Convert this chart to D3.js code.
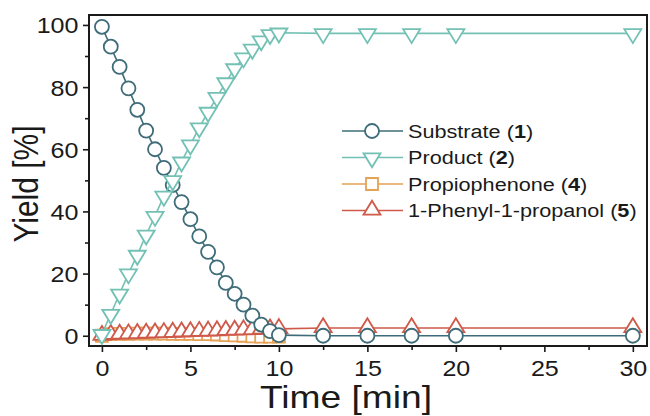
<!DOCTYPE html>
<html>
<head>
<meta charset="utf-8">
<script src="https://cdn.jsdelivr.net/npm/d3@7"></script>
<style>
  body { margin: 0; background: #fff; }
  svg { font-family: "Liberation Sans", Arial, sans-serif; }
</style>
</head>
<body>
<div id="chart"></div>
<script>
// sampling times [min]
var timeMin = [0, 0.5, 1, 1.5, 2, 2.5, 3, 3.5, 4, 4.5, 5, 5.5, 6, 6.5, 7, 7.5, 8, 8.5, 9, 9.5, 10,
               12.5, 15, 17.5, 20, 30];

// yields [%]
var substrate = [99.4, 93, 86.5, 79.6, 72.7, 66, 60, 54, 48.5, 43, 37.5, 32, 27, 22, 17, 13.5, 10, 6.5, 3.6, 1.5, 0.2,
                 0, 0, 0, 0, 0];
var product = [0.5, 7, 13.5, 20, 26, 32.5, 38.5, 45, 50, 56, 61.5, 67, 72, 76.8, 81.5, 86, 89.5, 92.3, 95, 97, 97.5,
               97.3, 97.3, 97.3, 97.3, 97.3];
var propiophenone = [0, 0.5, 0.6, 0.6, 0.7, 0.7, 0.7, 0.7, 0.6, 0.6, 0.6, 0.5, 0.5, 0.4, 0.2, 0.1, 0, -0.2, -0.3, -0.3, -0.3];
var phenylpropanol = [0, 0.3, 0.4, 0.5, 0.6, 0.7, 0.8, 0.9, 1.0, 1.1, 1.2, 1.3, 1.4, 1.5, 1.6, 1.7, 1.8, 1.9, 2.0, 2.1, 2.2,
                      2.5, 2.5, 2.5, 2.5, 2.5];

var xTicks = [0, 5, 10, 15, 20, 25, 30];
var xMinor = [2.5, 7.5, 12.5, 17.5, 22.5, 27.5];
var yTicks = [0, 20, 40, 60, 80, 100];
var yMinor = [10, 30, 50, 70, 90];

var seriesNames = ["Substrate", "Product", "Propiophenone", "1-Phenyl-1-propanol"];
var seriesNums = ["1", "2", "4", "5"];

var shapes = {
  circle: "M7,0A7,7 0 1,1 -7,0A7,7 0 1,1 7,0Z",
  triDown: "M-8.5,-4.2L8.5,-4.2L0,9.8Z",
  square: "M-6,-6h12v12h-12Z",
  triUp: "M0,-9.8L8.5,4.2L-8.5,4.2Z"
};

var series = [
  {name: seriesNames[2], num: seriesNums[2], values: propiophenone, color: "#e5a156", shape: shapes.square},
  {name: seriesNames[3], num: seriesNums[3], values: phenylpropanol, color: "#cf5a4a", shape: shapes.triUp},
  {name: seriesNames[0], num: seriesNums[0], values: substrate, color: "#3e6c78", shape: shapes.circle},
  {name: seriesNames[1], num: seriesNums[1], values: product, color: "#72c1b4", shape: shapes.triDown}
];
var legendOrder = [2, 3, 0, 1];

var SX = 1.14; // text in the figure is drawn a little wide

var W = 650, H = 416;
var svg = d3.select("#chart").append("svg").attr("width", W).attr("height", H);

var plot = {left: 89, right: 647, top: 15, bottom: 346};

var x = d3.scaleLinear().domain([-0.73, 30.8]).range([plot.left, plot.right]);
var y = d3.scaleLinear().domain([-3.3, 103.2]).range([plot.bottom, plot.top]);

// axes
var gx = svg.append("g").attr("transform", "translate(0," + plot.bottom + ")");
gx.call(d3.axisBottom(x).tickValues(xTicks).tickSize(6).tickPadding(8));
gx.append("g").call(d3.axisBottom(x).tickValues(xMinor).tickSize(4).tickFormat(""));

var gy = svg.append("g").attr("transform", "translate(" + plot.left + ",0)");
gy.call(d3.axisLeft(y).tickValues(yTicks).tickSize(6));
gy.append("g").call(d3.axisLeft(y).tickValues(yMinor).tickSize(4).tickFormat(""));

svg.selectAll(".domain").remove();
svg.selectAll(".tick line").attr("stroke", "#1a1a1a").attr("stroke-width", 1.6);
gx.selectAll(".tick text").attr("font-size", 22).attr("fill", "#1a1a1a")
  .attr("transform", "scale(" + SX + ",1)");
gy.selectAll(".tick text").attr("font-size", 22).attr("fill", "#1a1a1a")
  .attr("x", -10.5 / SX).attr("dy", "0.36em")
  .attr("transform", "scale(" + SX + ",1)");

// frame
svg.append("rect")
  .attr("x", plot.left).attr("y", plot.top)
  .attr("width", plot.right - plot.left).attr("height", plot.bottom - plot.top)
  .attr("fill", "none").attr("stroke", "#1a1a1a").attr("stroke-width", 2);

// series
var line = d3.line()
  .x(function(d, i) { return x(timeMin[i]); })
  .y(function(d) { return y(d); });

series.forEach(function(s) {
  var g = svg.append("g");
  g.append("path")
    .attr("d", line(s.values))
    .attr("fill", "none")
    .attr("stroke", s.color)
    .attr("stroke-width", 1.6);
  g.selectAll("path.m")
    .data(s.values)
    .enter().append("path")
      .attr("class", "m")
      .attr("d", s.shape)
      .attr("transform", function(d, i) { return "translate(" + x(timeMin[i]) + "," + y(d) + ")"; })
      .attr("fill", "#fff")
      .attr("stroke", s.color)
      .attr("stroke-width", 1.8);
});

// legend
var legendY = [131, 157.5, 184, 210.5];
legendOrder.forEach(function(k, i) {
  var s = series[k];
  var ly = legendY[i];
  var g = svg.append("g").attr("transform", "translate(0," + ly + ")");
  g.append("line").attr("x1", 342).attr("x2", 403).attr("y1", 0).attr("y2", 0)
    .attr("stroke", s.color).attr("stroke-width", 1.6);
  g.append("path").attr("d", s.shape).attr("transform", "translate(372,0)")
    .attr("fill", "#fff").attr("stroke", s.color).attr("stroke-width", 1.8);
  var t = g.append("text")
    .attr("transform", "translate(408,0) scale(" + SX + ",1)")
    .attr("dy", "0.35em")
    .attr("font-size", 19)
    .attr("fill", "#1a1a1a");
  t.append("tspan").text(s.name + " (");
  t.append("tspan").attr("font-weight", "bold").text(s.num);
  t.append("tspan").text(")");
});

// axis titles
svg.append("text")
  .attr("transform", "translate(346,408) scale(1.2,1)")
  .attr("text-anchor", "middle")
  .attr("font-size", 31)
  .attr("fill", "#1a1a1a")
  .text("Time [min]");

svg.append("text")
  .attr("transform", "translate(38,184) scale(" + SX + ",1) rotate(-90)")
  .attr("text-anchor", "middle")
  .attr("font-size", 30)
  .attr("fill", "#1a1a1a")
  .text("Yield [%]");
</script>
</body>
</html>
